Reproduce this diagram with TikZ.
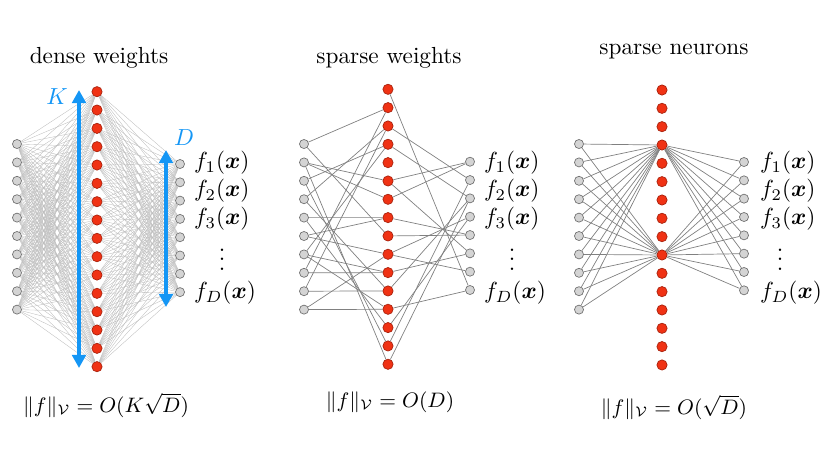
\documentclass[tikz,border=0pt]{standalone}
\usepackage{amsmath,bm}
\usetikzlibrary{positioning,arrows.meta}

\definecolor{dimblue}{RGB}{20,150,245}
\definecolor{unitred}{RGB}{240,50,20}
\definecolor{unitgray}{RGB}{212,212,212}

\tikzset{
  inunit/.style={circle, draw=black!55, fill=unitgray, line width=0.3pt, minimum size=3.9pt, inner sep=0pt},
  hidunit/.style={circle, draw=unitred!70!black, fill=unitred, line width=0.3pt, minimum size=4.4pt, inner sep=0pt},
  denseedge/.style={black!26, line width=0.15pt},
  sparseedge/.style={black!50, line width=0.3pt},
  outlabel/.style={anchor=west},
  dimarrow/.style={dimblue, line width=1.7pt, {Triangle[length=5.6pt,width=5.8pt]}-{Triangle[length=5.6pt,width=5.8pt]}},
}

\begin{document}
\begin{tikzpicture}[x=0.43pt, y=-0.43pt]
  \useasboundingbox (0,0) rectangle (830,467);

  % Units of the three networks
  \foreach \i in {1,...,10} {
    \node [inunit] (din\i) at (17, {144+18.4*(\i-1)}) {};
    \node [inunit] (win\i) at (304, {144+18.4*(\i-1)}) {};
    \node [inunit] (nin\i) at (579, {144+18.4*(\i-1)}) {};
  }
  \foreach \j in {1,...,16} {
    \node [hidunit] (dhid\j) at (97, {91.7+18.33*(\j-1)}) {};
    \node [hidunit] (whid\j) at (388, {89.3+18.33*(\j-1)}) {};
    \node [hidunit] (nhid\j) at (662, {90+18.33*(\j-1)}) {};
  }
  \foreach \k in {1,...,8} {
    \node [inunit] (dout\k) at (180, {164+18.3*(\k-1)}) {};
    \node [inunit] (wout\k) at (470, {161.7+18.33*(\k-1)}) {};
    \node [inunit] (nout\k) at (744, {162+18.33*(\k-1)}) {};
  }

  % Dense weights
  \foreach \i in {1,...,10}
    \foreach \j in {1,...,16}
      \draw [denseedge] (din\i) -- (dhid\j);
  \foreach \j in {1,...,16}
    \foreach \k in {1,...,8}
      \draw [denseedge] (dhid\j) -- (dout\k);

  % Sparse weights
  \foreach \i/\j in {1/2, 1/9, 2/6, 2/7, 2/16, 3/4, 3/15, 4/3, 4/12, 5/8, 5/14,
                     6/8, 6/10, 7/4, 7/11, 7/13, 8/2, 8/11, 9/3, 9/12, 10/10, 10/13}
    \draw [sparseedge] (win\i) -- (whid\j);
  \foreach \j/\k in {1/8, 3/2, 4/3, 6/1, 6/6, 7/1, 8/5, 9/5, 10/4, 10/7,
                     11/6, 12/3, 13/8, 14/4, 15/2, 16/3}
    \draw [sparseedge] (whid\j) -- (wout\k);

  % Sparse neurons
  \foreach \i in {1,...,10}
    \foreach \j in {4,10}
      \draw [sparseedge] (nin\i) -- (nhid\j);
  \foreach \j in {4,10}
    \foreach \k in {1,...,8}
      \draw [sparseedge] (nhid\j) -- (nout\k);

  % Output labels
  \foreach \net/\lx/\dx in {d/186/36, w/476/36, n/752/28} {
    \node [outlabel] (\net lab1) at (\lx,163) {$f_1(\bm{x})$};
    \node [outlabel] (\net lab2) at (\lx,191) {$f_2(\bm{x})$};
    \node [outlabel] (\net lab3) at (\lx,219) {$f_3(\bm{x})$};
    \node [outlabel] (\net labD) at (\lx,293) {$f_D(\bm{x})$};
    \node [inner sep=0pt] (\net dots) at (\lx+\dx,270) {$\smash{\vdots}$};
  }

  % Widths K and D
  \coordinate (ktop) at (79,90);
  \coordinate (kbot) at (79,368);
  \coordinate (dtop) at (166,150);
  \coordinate (dbot) at (166,307);
  \draw [dimarrow] (ktop) -- (kbot);
  \draw [dimarrow] (dtop) -- (dbot);
  \node [dimblue] (klabel) at (57,97) {$K$};
  \node [dimblue] (dlabel) at (184,138) {$D$};

  % Titles and norms
  \node (dtitle) at (99,58) {dense weights};
  \node (wtitle) at (389,58) {sparse weights};
  \node (ntitle) at (674,52) {sparse neurons};
  \node [font=\small] (dnorm) at (106,405) {$\|f\|_{\mathcal{V}} = O(K\sqrt{D})$};
  \node [font=\small] (wnorm) at (390,402) {$\|f\|_{\mathcal{V}} = O(D)$};
  \node [font=\small] (nnorm) at (674,407) {$\|f\|_{\mathcal{V}} = O(\sqrt{D})$};
\end{tikzpicture}
\end{document}
